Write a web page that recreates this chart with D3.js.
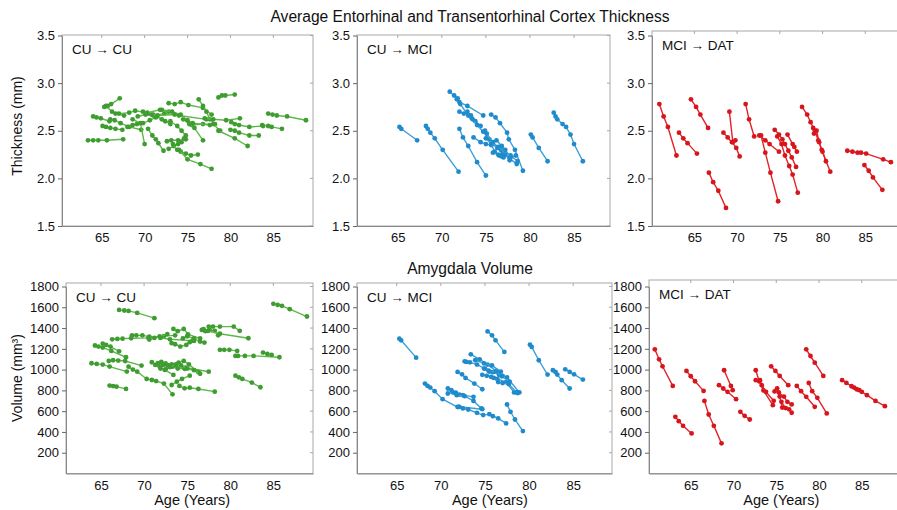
<!DOCTYPE html>
<html lang="en">
<meta charset="utf-8">
<title>Entorhinal thickness and amygdala volume</title>
<head>
<style>
  body { margin: 0; background: #fff; }
  svg text { font-family: Arial, "Liberation Sans", sans-serif; fill: #111; }
</style>
</head>
<body>
<div id="chart"></div>
<script src="https://d3js.org/d3.v7.min.js"></script>
<script>

// tick values and group names
var ageTicks = [65, 70, 75, 80, 85];
var thickTicks = [1.5, 2.0, 2.5, 3.0, 3.5];
var volTicks = [200, 400, 600, 800, 1000, 1200, 1400, 1600, 1800];
var groupNames = ["CU \u2192 CU", "CU \u2192 MCI", "MCI \u2192 DAT"];

// each subject = list of [age, value]
var thickCUCU = [
  [[63.4,2.40],[64.0,2.40],[64.6,2.40],[65.6,2.40],[67.5,2.41]],
  [[64.0,2.65],[64.4,2.64],[64.9,2.63],[65.9,2.60]],
  [[65.3,2.75],[65.7,2.76],[66.1,2.78],[67.1,2.84]],
  [[65.5,2.76],[66.2,2.70],[66.6,2.68],[67.6,2.66]],
  [[65.1,2.55],[65.5,2.54],[66.0,2.53],[66.6,2.52],[67.4,2.51]],
  [[66.0,2.62],[66.5,2.61],[67.2,2.58],[68.2,2.54],[69.6,2.51]],
  [[67.0,2.68],[68.2,2.69],[68.9,2.71],[70.3,2.69],[71.8,2.72],[72.8,2.70]],
  [[68.0,2.54],[68.6,2.56],[69.1,2.57],[69.8,2.58],[70.6,2.61],[71.3,2.64]],
  [[69.2,2.65],[70.1,2.67],[71.0,2.66],[72.3,2.68],[74.0,2.66],[77.2,2.62]],
  [[68.6,2.62],[69.5,2.58],[70.0,2.36]],
  [[70.4,2.52],[70.9,2.45],[71.3,2.41],[71.6,2.37],[72.2,2.29]],
  [[71.0,2.67],[71.4,2.65],[72.0,2.62],[72.4,2.60],[73.0,2.57]],
  [[72.6,2.39],[73.1,2.40],[73.9,2.40],[74.8,2.41]],
  [[72.8,2.31],[73.4,2.34],[73.9,2.36],[74.3,2.38],[74.6,2.42]],
  [[73.3,2.36],[73.8,2.30],[74.2,2.28],[74.8,2.26],[75.4,2.24],[76.2,2.25]],
  [[74.0,2.30],[75.0,2.20],[76.5,2.15],[77.8,2.10]],
  [[72.8,2.79],[73.5,2.78],[74.2,2.80],[75.1,2.77],[76.8,2.74],[77.8,2.67]],
  [[76.3,2.83],[76.8,2.76],[77.2,2.70],[77.6,2.62],[78.2,2.57]],
  [[78.6,2.85],[79.0,2.87],[79.4,2.87],[80.5,2.88]],
  [[77.0,2.63],[78.0,2.62],[79.5,2.61],[81.1,2.63]],
  [[75.5,2.56],[76.8,2.57],[78.0,2.57],[78.8,2.50]],
  [[80.1,2.59],[80.5,2.57],[81.0,2.56],[82.2,2.54],[83.8,2.55]],
  [[80.0,2.51],[80.5,2.50],[81.0,2.48],[82.2,2.45],[83.3,2.45]],
  [[84.4,2.68],[84.9,2.67],[85.4,2.66],[86.6,2.65],[88.8,2.61]],
  [[83.7,2.56],[84.4,2.55],[84.8,2.54],[86.0,2.52]],
  [[78.6,2.50],[80.5,2.42],[82.0,2.34]],
  [[74.5,2.62],[75.2,2.57],[75.8,2.53],[76.8,2.40]],
  [[72.0,2.72],[73.2,2.70],[74.2,2.67],[75.0,2.61],[75.6,2.58],[77.6,2.56]],
  [[73.0,2.60],[73.8,2.55],[74.3,2.50],[74.8,2.45]],
  [[69.8,2.70],[70.3,2.68],[70.8,2.67],[71.5,2.66],[73.5,2.67]]
];

var thickCUMCI = [
  [[65.2,2.54],[65.4,2.52],[67.2,2.40]],
  [[68.2,2.55],[68.4,2.52],[68.7,2.48],[69.2,2.42],[70.1,2.30],[71.9,2.07]],
  [[70.9,2.91],[71.4,2.87],[71.8,2.84],[72.1,2.78],[73.0,2.66],[73.4,2.63]],
  [[71.7,2.83],[72.0,2.80],[72.9,2.76],[74.7,2.66]],
  [[72.0,2.52],[72.4,2.43],[73.0,2.34],[74.0,2.17],[75.0,2.03]],
  [[72.0,2.70],[72.5,2.68],[72.9,2.70],[73.3,2.66],[73.8,2.60],[74.4,2.55]],
  [[73.5,2.62],[74.0,2.56],[74.7,2.49],[75.4,2.41],[76.3,2.32],[76.9,2.26]],
  [[74.9,2.50],[75.1,2.47],[75.8,2.38],[76.7,2.30],[77.7,2.21],[78.5,2.15]],
  [[75.6,2.67],[76.1,2.64],[76.6,2.58],[77.4,2.48],[77.6,2.41],[78.3,2.30],[79.2,2.08]],
  [[73.6,2.43],[74.4,2.38],[75.0,2.36],[75.6,2.35],[76.4,2.33],[77.8,2.24],[78.6,2.18]],
  [[75.0,2.42],[75.6,2.36],[76.0,2.28],[76.5,2.24],[77.0,2.22]],
  [[75.8,2.27],[76.4,2.25],[76.8,2.23],[77.2,2.25],[77.7,2.19]],
  [[76.2,2.40],[76.8,2.34],[77.2,2.30],[77.8,2.22],[78.4,2.24]],
  [[80.1,2.46],[80.3,2.43],[81.0,2.32],[82.0,2.18]],
  [[82.7,2.69],[82.9,2.65],[83.1,2.62],[83.7,2.57],[84.1,2.54],[84.6,2.46],[85.0,2.36],[86.0,2.18]]
];

var thickMCIDAT = [
  [[60.9,2.78],[61.4,2.65],[61.9,2.54],[62.9,2.24]],
  [[63.2,2.48],[63.7,2.42],[64.2,2.37],[65.3,2.26]],
  [[64.6,2.83],[65.2,2.75],[65.7,2.67],[66.6,2.53]],
  [[66.7,2.06],[67.2,1.96],[67.8,1.87],[68.7,1.69]],
  [[68.4,2.48],[68.9,2.43],[69.4,2.38],[69.9,2.32],[70.3,2.23]],
  [[69.1,2.70],[69.5,2.38],[69.8,2.40]],
  [[71.0,2.78],[71.4,2.62],[72.0,2.44]],
  [[72.8,2.45],[73.3,2.27],[73.9,2.06],[74.8,1.76]],
  [[72.6,2.45],[73.3,2.40],[73.8,2.36],[74.9,2.28]],
  [[74.4,2.51],[74.9,2.46],[75.3,2.41],[75.6,2.36],[76.0,2.29],[76.4,2.22],[76.9,2.12]],
  [[74.7,2.44],[75.2,2.36],[75.6,2.24],[76.1,2.13],[76.5,2.04],[77.1,1.85]],
  [[75.9,2.46],[76.5,2.36],[76.7,2.33],[77.0,2.28]],
  [[77.6,2.75],[78.2,2.67],[78.6,2.59],[79.1,2.50],[79.5,2.40],[80.0,2.28],[80.9,2.07]],
  [[78.9,2.53],[79.0,2.47],[79.3,2.50],[79.6,2.38],[79.9,2.30],[80.4,2.18]],
  [[82.9,2.29],[83.5,2.28],[84.1,2.27],[84.5,2.27],[85.1,2.26],[87.1,2.20],[88.0,2.17]],
  [[84.9,2.14],[85.4,2.08],[85.9,2.01],[87.0,1.88]]
];

var volCUCU = [
  [[66.0,846],[66.4,842],[66.8,836],[67.9,814]],
  [[67.1,1575],[67.7,1569],[68.2,1565],[69.2,1546],[71.2,1495]],
  [[63.9,1061],[64.5,1055],[65.2,1048],[66.0,1029],[68.0,981]],
  [[64.3,1232],[64.7,1222],[65.2,1212],[66.2,1180],[67.9,1119]],
  [[65.2,1250],[65.6,1238],[66.1,1222],[67.1,1176]],
  [[65.9,1083],[66.4,1090],[67.0,1087],[67.8,1083],[69.7,1039]],
  [[66.3,1292],[66.9,1295],[67.5,1298],[68.5,1302],[70.5,1305],[72.3,1322],[73.6,1330]],
  [[68.6,1330],[69.1,1330],[69.8,1330],[70.6,1318],[71.9,1305],[73.0,1292],[75.6,1279]],
  [[68.2,1028],[68.7,1000],[69.2,980],[70.3,910],[70.9,900],[71.4,890],[72.3,866],[73.3,762]],
  [[70.9,1071],[71.3,1045],[71.8,1029],[72.4,997],[73.4,949]],
  [[73.2,852],[73.8,884],[74.4,910],[75.3,942]],
  [[74.1,843],[74.7,820],[75.3,826],[76.3,814],[78.2,788]],
  [[73.4,1392],[73.9,1370],[74.6,1392],[75.1,1340],[76.5,1300]],
  [[73.2,1254],[73.6,1244],[74.2,1222],[74.9,1238],[75.3,1264],[75.8,1276]],
  [[76.7,1382],[77.1,1370],[77.6,1382],[78.2,1373],[78.6,1330]],
  [[77.5,1414],[78.0,1414],[78.8,1414],[80.4,1414],[81.1,1373]],
  [[76.9,1390],[77.4,1372],[78.8,1345],[82.1,1302]],
  [[78.8,1190],[79.3,1190],[79.9,1190],[80.8,1180]],
  [[80.6,1132],[80.9,1132],[81.7,1132],[82.7,1132],[85.7,1119]],
  [[83.8,1164],[84.3,1151],[84.8,1141]],
  [[80.6,942],[81.0,926],[81.4,910],[82.5,875],[83.5,830]],
  [[85.0,1633],[85.5,1623],[86.0,1614],[86.9,1582],[88.9,1511]],
  [[71.6,1061],[72.2,1045],[72.8,1040],[73.6,1036],[74.8,1020],[77.5,980]],
  [[72.0,1075],[72.5,1060],[73.2,1050],[74.0,1068],[74.6,1084],[75.2,1050],[76.3,975]],
  [[72.7,1040],[73.3,1028],[73.9,1010],[74.7,1008],[75.8,995],[76.5,960]],
  [[71.9,1010],[72.5,1003],[73.0,1025],[73.7,1050],[74.3,1040],[75.0,1010]],
  [[70.6,1290],[71.2,1305],[71.8,1320],[72.7,1342]],
  [[74.5,1300],[75.0,1320],[75.8,1300],[76.5,1270],[77.0,1260]]
];

var volCUMCI = [
  [[65.3,1298],[65.5,1282],[67.2,1115]],
  [[75.3,1368],[75.8,1330],[76.2,1282],[77.2,1170]],
  [[80.1,1240],[80.3,1218],[81.1,1090],[82.1,952]],
  [[82.7,994],[83.0,978],[83.2,952],[83.7,898],[84.6,818]],
  [[84.1,1003],[84.6,978],[85.1,955],[86.1,904]],
  [[73.4,1147],[74.4,1099],[75.3,1048],[76.3,987]],
  [[72.7,1080],[72.9,1074],[73.3,1070],[74.1,1048],[75.0,1010],[76.2,980],[77.0,940]],
  [[71.9,978],[72.4,955],[72.8,920],[73.8,866],[74.7,811]],
  [[68.2,866],[68.5,843],[68.8,827],[69.3,792],[70.2,715],[71.9,640]],
  [[72.0,642],[74.7,619]],
  [[70.8,818],[71.2,802],[71.7,779],[72.1,760],[72.5,754],[73.7,738]],
  [[70.8,770],[71.4,779],[71.8,754],[72.7,744],[73.7,699],[74.6,626]],
  [[72.1,642],[72.5,626],[73.1,616],[74.1,584],[74.8,562],[75.5,571],[75.9,552],[76.5,530],[77.4,482]],
  [[77.5,664],[77.9,594],[78.4,520],[79.3,408]],
  [[74.9,1010],[75.4,990],[75.9,975],[76.6,950],[77.5,925],[78.9,780]],
  [[74.7,950],[75.2,940],[75.7,930],[76.4,910],[77.4,880],[78.3,780],[78.7,775]],
  [[75.5,980],[76.3,985],[76.9,935],[77.8,885]],
  [[76.0,920],[76.5,880],[77.0,870],[77.7,860],[78.6,780]],
  [[73.9,1090],[74.9,1060],[75.8,1040],[76.8,980]]
];

var volMCIDAT = [
  [[60.8,1195],[61.3,1099],[61.7,1032],[62.9,843]],
  [[63.2,546],[63.6,504],[64.1,459],[65.1,386]],
  [[64.5,987],[65.0,936],[65.5,888],[66.5,795]],
  [[66.6,699],[67.1,568],[67.7,459],[68.6,290]],
  [[68.3,850],[68.8,818],[69.3,786],[70.3,715]],
  [[68.9,994],[69.7,843],[69.9,802]],
  [[70.8,594],[71.3,555],[71.9,520]],
  [[72.6,994],[73.0,888],[73.5,800],[74.6,658]],
  [[72.6,898],[73.1,898],[73.3,850],[73.8,786],[74.7,700]],
  [[74.4,1032],[74.9,987],[75.4,939],[76.4,850]],
  [[74.8,790],[75.1,820],[75.4,740],[75.7,635]],
  [[75.3,780],[75.9,740],[76.3,690],[76.8,665]],
  [[75.6,690],[76.1,630],[76.5,618],[76.8,585]],
  [[77.4,843],[77.9,792],[78.5,738],[79.5,642]],
  [[78.5,1195],[79.0,1131],[79.5,1067],[80.5,939]],
  [[78.8,872],[79.2,792],[79.8,728],[80.9,578]],
  [[82.7,898],[83.2,872],[83.8,840],[84.1,827],[84.4,811],[84.7,802],[85.0,786],[85.6,754],[86.6,699],[87.7,648]]
];

var lineColors = ["#5cb848", "#3d9fd9", "#e42228"];
var dotColors = ["#3f9c31", "#1f8bcc", "#d7151c"];

var W = 897, H = 510;
var svg = d3.select("#chart").append("svg")
  .attr("width", W).attr("height", H);

// panel boxes (pixels) and the age span each box covers
var rows = [
  {
    data: [thickCUCU, thickCUMCI, thickMCIDAT],
    yDomain: [1.5, 3.5], yRange: [226, 35.5],
    ticks: thickTicks, fmt: d3.format(".1f"),
    cols: [
      {x0: 62, x1: 313, dom: [60.37, 89.62], top: 35},
      {x0: 357, x1: 610, dom: [60.38, 89.08], top: 35},
      {x0: 652, x1: 902, dom: [60.04, 89.3], top: 31}
    ],
    title: "Average Entorhinal and Transentorhinal Cortex Thickness", titleY: 22,
    ylab: "Thickness (mm)", ylabY: 126, xlab: false
  },
  {
    data: [volCUCU, volCUMCI, volMCIDAT],
    yDomain: [0, 1800], yRange: [473.5, 286.5],
    ticks: volTicks, fmt: d3.format("d"),
    cols: [
      {x0: 66, x1: 313, dom: [60.94, 89.6], top: 283},
      {x0: 357, x1: 612, dom: [60.5, 89.4], top: 283},
      {x0: 649, x1: 902, dom: [60.12, 89.7], top: 280}
    ],
    title: "Amygdala Volume", titleY: 274,
    ylab: "Volume (mm\u00b3)", ylabY: 378, xlab: true
  }
];

rows.forEach(function (row) {
  var y = d3.scaleLinear().domain(row.yDomain).range(row.yRange);
  var bottom = row.yRange[0];

  row.cols.forEach(function (c, i) {
    var x = d3.scaleLinear().domain(c.dom).range([c.x0, c.x1]);
    var g = svg.append("g");

    // frame
    g.append("rect")
      .attr("x", c.x0).attr("y", c.top)
      .attr("width", c.x1 - c.x0).attr("height", bottom - c.top)
      .attr("fill", "none").attr("stroke", "#a8a8a8").attr("stroke-width", 1);

    // small inward ticks on top and right sides
    g.selectAll(".tt").data(ageTicks).enter().append("line")
      .attr("x1", d => x(d)).attr("x2", d => x(d))
      .attr("y1", c.top).attr("y2", c.top + 3)
      .attr("stroke", "#a8a8a8");
    g.selectAll(".rt").data(row.ticks).enter().append("line")
      .attr("x1", c.x1).attr("x2", c.x1 - 3)
      .attr("y1", d => y(d)).attr("y2", d => y(d))
      .attr("stroke", "#a8a8a8");

    // left axis
    var ya = g.append("g")
      .attr("transform", "translate(" + c.x0 + ",0)")
      .call(d3.axisLeft(y).tickValues(row.ticks).tickFormat(row.fmt)
        .tickSize(4).tickSizeOuter(0).tickPadding(3));
    ya.select(".domain").attr("stroke", "#888");
    ya.selectAll(".tick line").attr("stroke", "#666");
    ya.selectAll("text").attr("font-size", 13).attr("fill", "#111");

    // bottom axis
    var xa = g.append("g")
      .attr("transform", "translate(0," + bottom + ")")
      .call(d3.axisBottom(x).tickValues(ageTicks).tickSize(0).tickPadding(7));
    xa.select(".domain").attr("stroke", "#888");
    xa.selectAll("text").attr("font-size", 13).attr("fill", "#111");

    // group label
    g.append("text")
      .attr("x", c.x0 + 10).attr("y", c.top + 19)
      .attr("font-size", 13.5)
      .text(groupNames[i]);

    // subject lines + dots
    var line = d3.line().x(d => x(d[0])).y(d => y(d[1]));
    var subj = g.selectAll(".subj").data(row.data[i]).enter().append("g");
    subj.append("path")
      .attr("d", line)
      .attr("fill", "none")
      .attr("stroke", lineColors[i])
      .attr("stroke-width", 1.4);
    subj.selectAll("circle").data(d => d).enter().append("circle")
      .attr("cx", d => x(d[0])).attr("cy", d => y(d[1]))
      .attr("r", 2.4)
      .attr("fill", dotColors[i]);

    if (row.xlab) {
      g.append("text")
        .attr("x", (x(65) + x(85)) / 2 + 5).attr("y", 505)
        .attr("text-anchor", "middle").attr("font-size", 14.5)
        .text("Age (Years)");
    }
  });

  svg.append("text")
    .attr("x", 470).attr("y", row.titleY)
    .attr("text-anchor", "middle").attr("font-size", 15.6)
    .text(row.title);

  svg.append("text")
    .attr("transform", "translate(22," + row.ylabY + ") rotate(-90)")
    .attr("text-anchor", "middle").attr("font-size", 14)
    .text(row.ylab);
});

</script>
</body>
</html>
